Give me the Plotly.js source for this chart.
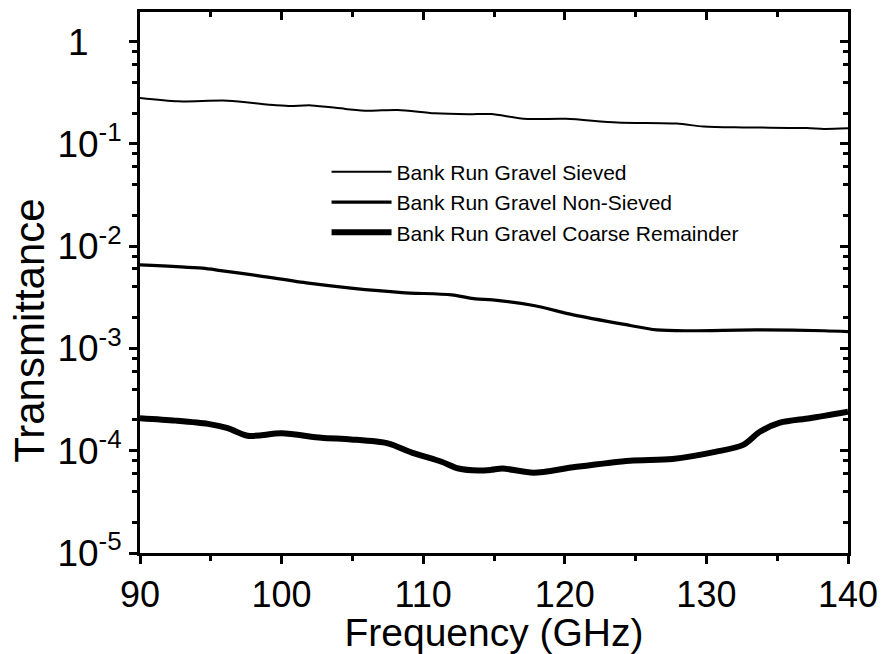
<!DOCTYPE html>
<html>
<head>
<meta charset="utf-8">
<script src="https://cdn.plot.ly/plotly-3.0.1.min.js"></script>
<style>html,body{margin:0;padding:0;background:#fff;}#chart{width:891px;height:654px;}</style>
</head>
<body>
<div id="chart"></div>
<script>
// Data
const freqSieved = [90, 92.7, 96.2, 99.1, 100.5, 102.1, 104.5, 106.1, 108.2, 110.8, 113.2, 114.8, 117.1, 120.1, 123.7, 127.9, 129.8, 132.6, 137.1, 138.3, 140];
const sieved = [0.281, 0.261, 0.265, 0.242, 0.235, 0.238, 0.220, 0.211, 0.215, 0.199, 0.195, 0.196, 0.176, 0.176, 0.162, 0.158, 0.148, 0.145, 0.143, 0.140, 0.142];

const freqNonSieved = [90, 94.4, 95.7, 98.4, 101.9, 104.9, 108.5, 112, 113.7, 114.9, 117.8, 120.6, 124.1, 126.5, 128.8, 133.5, 138.3, 140];
const nonSieved = [0.00658, 0.0061, 0.00578, 0.00513, 0.00435, 0.00389, 0.00352, 0.00334, 0.00305, 0.00299, 0.00263, 0.00213, 0.00173, 0.00152, 0.00149, 0.00152, 0.00149, 0.00146];

const freqCoarse = [90, 92.5, 94.8, 96.2, 97.6, 100, 102.8, 104.9, 107.5, 109.2, 111.3, 112.5, 113.9, 114.8, 115.6, 117.8, 120.6, 124.6, 127.6, 130.7, 132.6, 133.8, 135.2, 137.3, 140];
const coarse = [2.08e-4, 1.97e-4, 1.83e-4, 1.66e-4, 1.40e-4, 1.48e-4, 1.34e-4, 1.29e-4, 1.18e-4, 9.6e-5, 7.8e-5, 6.7e-5, 6.4e-5, 6.5e-5, 6.7e-5, 6.1e-5, 6.9e-5, 8.0e-5, 8.3e-5, 9.8e-5, 1.14e-4, 1.54e-4, 1.88e-4, 2.08e-4, 2.41e-4];

const seriesNames = ["Bank Run Gravel Sieved", "Bank Run Gravel Non-Sieved", "Bank Run Gravel Coarse Remainder"];

const yTickVals = [1e-5, 1e-4, 1e-3, 1e-2, 1e-1, 1];
const yTickText = ["10<sup>-5</sup>", "10<sup>-4</sup>", "10<sup>-3</sup>", "10<sup>-2</sup>", "10<sup>-1</sup>", "1\u2007\u2004"];
const xTickVals = [90, 100, 110, 120, 130, 140];
const xTickText = ["90", "100", "110", "120", "130", "140"];
const xMinorVals = [95, 105, 115, 125, 135];

const yMinorVals = [];
for (let e = -5; e <= 0; e++) { [2, 4, 6, 8].forEach(m => yMinorVals.push(m * Math.pow(10, e))); }

const FONT = "Liberation Sans, Arial, sans-serif";

const traces = [
  {x: freqSieved, y: sieved, name: seriesNames[0], mode: "lines", line: {color: "#000", width: 2, shape: "spline", smoothing: 0.8}},
  {x: freqNonSieved, y: nonSieved, name: seriesNames[1], mode: "lines", line: {color: "#000", width: 3.2, shape: "spline", smoothing: 0.8}},
  {x: freqCoarse, y: coarse, name: seriesNames[2], mode: "lines", line: {color: "#000", width: 6, shape: "spline", smoothing: 0.8}},
  {x: [], y: [], xaxis: "x2", yaxis: "y2", showlegend: false, hoverinfo: "skip"}
];

const yRange = [-5, 0.29];
const xRange = [90, 140];

const tickStyle = {ticklen: 8, tickwidth: 3, tickcolor: "#000"};
const minorStyle = {ticklen: 5, tickwidth: 3, tickcolor: "#000", showgrid: false};

const layout = {
  width: 891, height: 654,
  margin: {l: 140, r: 43, t: 12, b: 101},
  paper_bgcolor: "#fff", plot_bgcolor: "#fff",
  font: {family: FONT, color: "#000"},
  showlegend: true,
  legend: {x: 0.2635, y: 0.742, xanchor: "left", yanchor: "top", bgcolor: "rgba(0,0,0,0)", borderwidth: 0,
           font: {family: FONT, size: 21, color: "#000"}, itemwidth: 60, tracegroupgap: 0},
  xaxis: Object.assign({
    type: "linear", range: xRange, tickmode: "array", tickvals: xTickVals, ticktext: xTickText,
    ticks: "outside",
    showline: true, linewidth: 3, linecolor: "#000", showgrid: false, zeroline: false,
    tickfont: {family: FONT, size: 36, color: "#000"},
    minor: Object.assign({tickmode: "array", tickvals: xMinorVals, ticks: "outside"}, minorStyle),
    title: {text: "Frequency (GHz)", font: {family: FONT, size: 39, color: "#000"}, standoff: 2}
  }, tickStyle),
  yaxis: Object.assign({
    type: "log", range: yRange, tickmode: "array", tickvals: yTickVals, ticktext: yTickText,
    ticks: "outside",
    showline: true, linewidth: 3, linecolor: "#000", showgrid: false, zeroline: false,
    tickfont: {family: FONT, size: 37, color: "#000"},
    minor: Object.assign({tickmode: "array", tickvals: yMinorVals, ticks: "outside"}, minorStyle)
  }, tickStyle),
  xaxis2: Object.assign({
    overlaying: "x", side: "top", type: "linear", range: xRange, tickmode: "array", tickvals: xTickVals,
    showticklabels: false, ticks: "inside",
    showline: true, linewidth: 3, linecolor: "#000", showgrid: false, zeroline: false,
    minor: Object.assign({tickmode: "array", tickvals: xMinorVals, ticks: "inside"}, minorStyle)
  }, tickStyle),
  yaxis2: Object.assign({
    overlaying: "y", side: "right", type: "log", range: yRange, tickmode: "array", tickvals: yTickVals,
    showticklabels: false, ticks: "inside",
    showline: true, linewidth: 3, linecolor: "#000", showgrid: false, zeroline: false,
    minor: Object.assign({tickmode: "array", tickvals: yMinorVals, ticks: "inside"}, minorStyle)
  }, tickStyle),
  annotations: [
    {text: "Transmittance", xref: "paper", yref: "paper", x: -0.157, y: (553 - 330) / 541, xanchor: "center", yanchor: "middle",
     textangle: -90, showarrow: false, font: {family: FONT, size: 42, color: "#000"}}
  ]
};

Plotly.newPlot("chart", traces, layout, {displayModeBar: false, staticPlot: true});
</script>
</body>
</html>
